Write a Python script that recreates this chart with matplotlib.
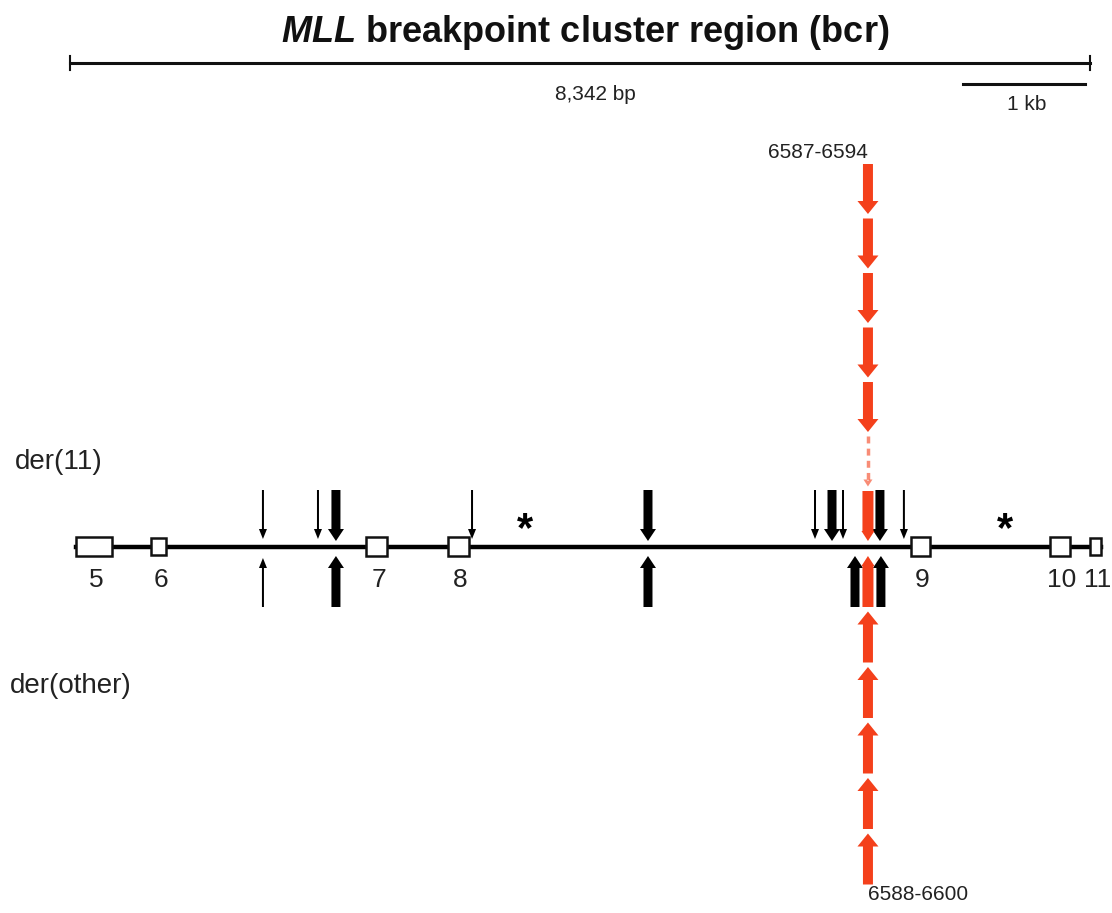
import matplotlib
matplotlib.use('Agg')
import matplotlib.pyplot as plt
from matplotlib.patches import Rectangle

plt.rcParams['font.family'] = 'Liberation Sans'
plt.rcParams['mathtext.fontset'] = 'custom'
plt.rcParams['mathtext.it'] = 'Liberation Sans:italic:bold'
plt.rcParams['mathtext.rm'] = 'Liberation Sans:bold'

# ---- data (positions in bp along the bcr) ----
bcr_length = 8342
scale_kb = 1000

exon_names = ['5', '6', '7', '8', '9', '10', '11']
exon_start = [50, 662, 2421, 3091, 6878, 8014, 8342]
exon_end = [343, 785, 2593, 3263, 7033, 8178, 8432]

# der(11) breakpoints (arrows above the line), thick = several cases
der11_pos = [1578, 2028, 2175, 3288, 4727, 6093, 6232, 6322, 6624, 6820]
der11_thick = [0, 0, 1, 0, 1, 0, 1, 0, 1, 0]

# der(other) breakpoints (arrows below the line)
other_pos = [1578, 2175, 4727, 6420, 6632]
other_thick = [0, 1, 1, 1, 1]

# recurrent breakpoint (red stacks)
red_pos = 6526
red_der11_style = ['solid', 'dashed', 'solid', 'solid', 'solid', 'solid', 'solid']
red_other_style = ['solid', 'solid', 'solid', 'solid', 'solid', 'solid']
red_der11_label = '6587-6594'
red_other_label = '6588-6600'

RED = '#f4401b'
TXT = '#222222'

# ---- layout: x in bp, y in pixel rows ----
X0_PX = 70
PX_PER_BP = 1020 / bcr_length

fig = plt.figure(figsize=(11.12, 9.13), dpi=100)
ax = fig.add_axes([0, 0, 1, 1])
ax.set_xlim(-X0_PX / PX_PER_BP, (1112 - X0_PX) / PX_PER_BP)
ax.set_ylim(913, 0)
ax.axis('off')


def px(v):
    return v / PX_PER_BP


def arrow(x, y_tail, y_tip, shaft, head, head_len, color, alpha=1.0):
    s = px(shaft) / 2
    h = px(head) / 2
    d = 1 if y_tip > y_tail else -1
    yb = y_tip - d * head_len
    xs = [x - s, x + s, x + s, x + h, x, x - h, x - s]
    ys = [y_tail, y_tail, yb, yb, y_tip, yb, yb]
    ax.fill(xs, ys, color=color, lw=0, alpha=alpha, zorder=4)


# title and scale
ax.text(px(585 - X0_PX), 32, r'$\it{MLL}$ breakpoint cluster region (bcr)',
        ha='center', va='center', fontsize=26, fontweight='bold', color='#111111')
ax.plot([0, bcr_length], [63, 63], color='#111111', lw=2.2)
for xe in [0, bcr_length]:
    ax.plot([xe, xe], [56, 70], color='#111111', lw=1.5)
ax.text(px(595 - X0_PX), 95, '{:,} bp'.format(bcr_length), ha='center', va='center',
        fontsize=15, color=TXT)
kb_end = 8300
ax.plot([kb_end - scale_kb, kb_end], [84, 84], color='#111111', lw=2.2)
ax.text(kb_end - scale_kb / 2 + px(3), 105, '1 kb', ha='center', va='center',
        fontsize=15, color=TXT)

# genomic line and exons
LINE_Y = 547
ax.plot([exon_start[0], exon_end[-1]], [LINE_Y, LINE_Y], color='black', lw=3.2, zorder=2)
for name, s, e in zip(exon_names, exon_start, exon_end):
    hh = 8.5 if name in ('6', '11') else 9.5
    ax.add_patch(Rectangle((s, LINE_Y - hh), e - s, 2 * hh, facecolor='white',
                           edgecolor='#111111', lw=1.8, zorder=3))
    ax.text((s + e) / 2 + px(2), 580, name, ha='center', va='center',
            fontsize=19, color=TXT)

ax.text(px(15 - X0_PX), 462, 'der(11)', ha='left', va='center', fontsize=20, color=TXT)
ax.text(px(10 - X0_PX), 686, 'der(other)', ha='left', va='center', fontsize=20, color=TXT)

for xa in [px(525 - X0_PX), px(1005 - X0_PX)]:
    ax.text(xa, 530, '*', ha='center', va='center', fontsize=30, fontweight='bold',
            color='black')

# black breakpoint arrows
for p, t in zip(der11_pos, der11_thick):
    if t:
        arrow(p, 490, 541, 9, 16, 12, 'black')
    else:
        arrow(p, 490, 539, 2, 8, 10, 'black')
for p, t in zip(other_pos, other_thick):
    if t:
        arrow(p, 607, 556, 9, 16, 12, 'black')
    else:
        arrow(p, 607, 558, 2, 8, 10, 'black')

# red stacked arrows
pitch = 54.5
for i, st in enumerate(red_der11_style):
    tip = 541 - i * pitch
    tail = tip - 50
    if i == 0:
        arrow(red_pos, tail, tip, 11, 13, 10, RED)
    elif st == 'dashed':
        ax.plot([red_pos, red_pos], [tail, tip - 6], color=RED, lw=2.5,
                ls=(0, (2, 1.5)), alpha=0.6, zorder=4)
        arrow(red_pos, tip - 6, tip, 2, 9, 7, RED, alpha=0.6)
    else:
        arrow(red_pos, tail, tip, 10, 21, 13, RED)
for i, st in enumerate(red_other_style):
    tip = 556 + i * 55.5
    tail = tip + 51
    if i == 0:
        arrow(red_pos, tail, tip, 11, 13, 10, RED)
    else:
        arrow(red_pos, tail, tip, 10, 21, 13, RED)

ax.text(px(818 - X0_PX), 153, red_der11_label, ha='center', va='center',
        fontsize=15, color=TXT)
ax.text(px(918 - X0_PX), 895, red_other_label, ha='center', va='center',
        fontsize=15, color=TXT)

fig.savefig('out.png', dpi=100)
